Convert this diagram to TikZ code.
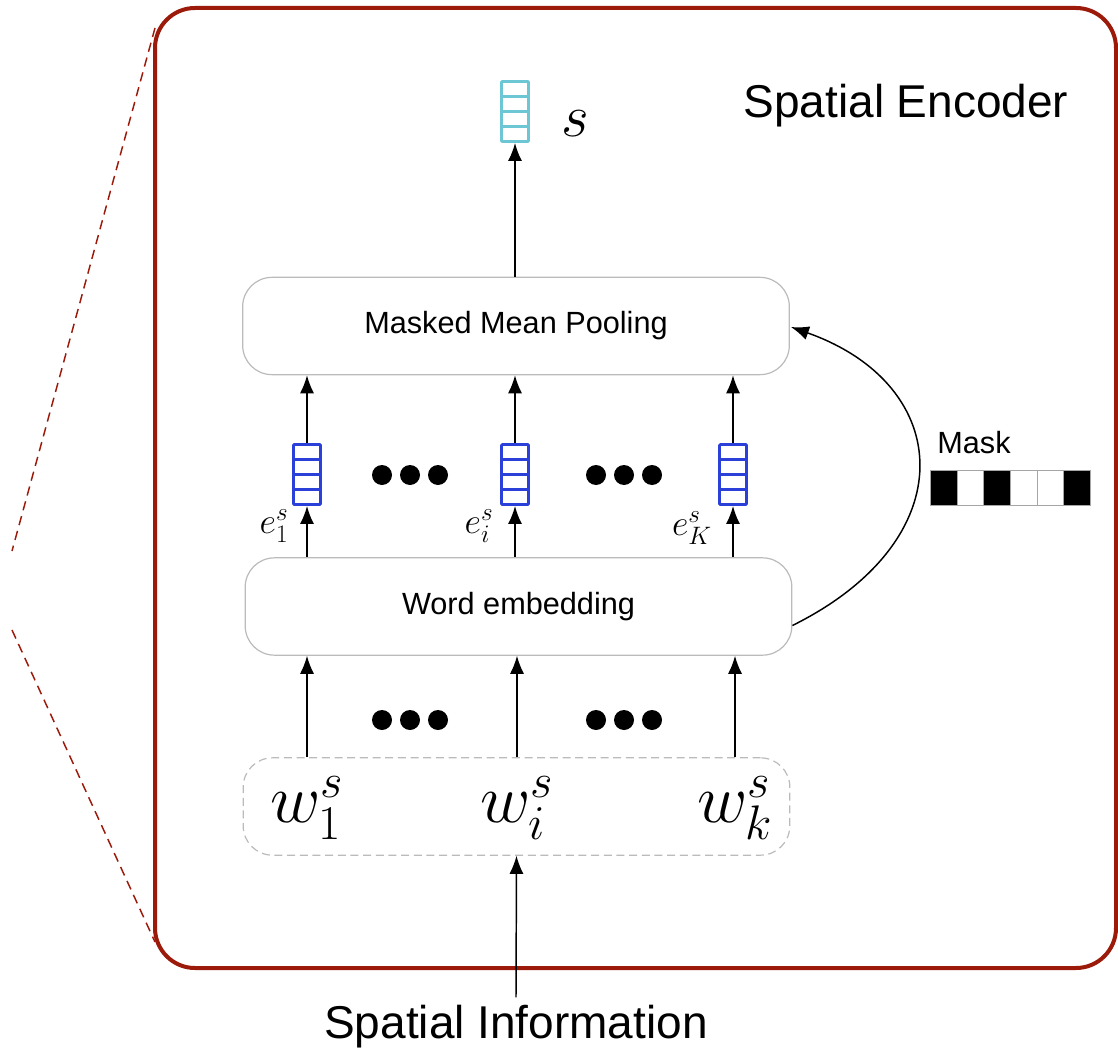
\documentclass[tikz,border=0pt]{standalone}
\usepackage{fix-cm}
\usepackage{fontspec}
\setmainfont{Liberation Sans}
\usetikzlibrary{arrows.meta,calc}
\definecolor{framered}{HTML}{9B1A0A}
\definecolor{cyanv}{HTML}{6CC6D4}
\definecolor{bluev}{HTML}{2B3FD9}
\definecolor{boxgray}{HTML}{BBBBBB}
\begin{document}
\begin{tikzpicture}[x=0.75pt,y=-0.75pt,
  arr/.style={-{Latex[length=13.5pt,width=10.5pt]}, line width=1.1pt},
  block/.style={draw=boxgray, line width=0.9pt, rounded corners=22pt,
    minimum width=410pt, minimum height=73pt, inner sep=0pt,
    font=\fontsize{23}{28}\selectfont},
  vec/.style={draw=#1, line width=2.2pt, rounded corners=0.8pt,
    minimum width=20.25pt, minimum height=45pt, inner sep=0pt,
    path picture={\foreach \f in {0.25,0.5,0.75}{
      \draw[#1, line width=2.2pt]
        ($(path picture bounding box.south west)!\f!(path picture bounding box.north west)$) --
        ($(path picture bounding box.south east)!\f!(path picture bounding box.north east)$);}}},
  wlabel/.style={font=\fontsize{52}{56}\selectfont, inner sep=0pt},
  elabel/.style={font=\fontsize{27}{30}\selectfont, inner sep=0pt},
  bigtext/.style={font=\fontsize{34.5}{40}\selectfont, inner sep=0pt},
  dot/.style={circle, fill=black, minimum size=15pt, inner sep=0pt},
]
\useasboundingbox (0,0) rectangle (1118,1056);

% encoder frame and zoom lines
\draw[framered, line width=3pt, rounded corners=30pt] (155,8) rectangle (1116,968);
\coordinate (zt) at (155,28);
\coordinate (zb) at (155,942);
\draw[framered, line width=1.1pt, dash pattern=on 7pt off 4.5pt] (zt) -- (12,551);
\draw[framered, line width=1.1pt, dash pattern=on 7pt off 4.5pt] (12,630) -- (zb);

\node[bigtext] (title) at (906,106) {Spatial Encoder};

% output vector
\node[vec=cyanv] (out) at (515,111.5) {};
\node[font=\fontsize{45}{50}\selectfont, inner sep=0pt] (slab) at (575,124) {$s$};

% blocks
\node[block] (mmp) at (516,326) {Masked Mean Pooling};
\node[block] (we) at (518.5,606.5) {Word embedding};
\node[block, draw=boxgray, dashed, dash pattern=on 6pt off 3.5pt] (inp) at (516.5,806.5) {};

% embedding vectors
\node[vec=bluev] (v1) at (307,474.5) {};
\node[vec=bluev] (vi) at (515,474.5) {};
\node[vec=bluev] (vk) at (733,474.5) {};
\node[elabel] (e1) at (274,526) {$e_1^s$};
\node[elabel] (ei) at (479,526) {$e_i^s$};
\node[elabel] (ek) at (692,528) {$e_K^s$};

% ellipsis dots
\foreach \x in {382,410,438,596,624,652}{
  \node[dot] at (\x,475) {};
  \node[dot] at (\x,720) {};
}

% input words
\node[wlabel] (w1) at (307,808) {$w_1^s$};
\node[wlabel] (wi) at (517,808) {$w_i^s$};
\node[wlabel] (wk) at (735,808) {$w_k^s$};

\node[bigtext] (info) at (516,1027) {Spatial Information};

% mask
\node[font=\fontsize{23}{28}\selectfont, inner sep=0pt] (masklab) at (974,443) {Mask};
\foreach \i/\c in {0/black,1/white,2/black,3/white,4/white,5/black}{
  \node[draw=gray!70, fill=\c, line width=0.6pt, minimum width=20pt, minimum height=26pt,
        inner sep=0pt, anchor=north west] (m\i) at (930+26.67*\i,470) {};
}

% connectors
\draw[arr] (mmp.north -| out) -- (out.south);
\foreach \v in {v1,vi,vk}{
  \draw[arr] (\v.north) -- (mmp.south -| \v);
  \draw[arr] (we.north -| \v) -- (\v.south);
}
\draw[arr] (inp.north -| w1) -- (we.south -| w1);
\draw[arr] (inp.north -| wi) -- (we.south -| wi);
\draw[arr] (inp.north -| wk) -- (we.south -| wk);
\draw[arr] (info.north) ++(0,-8) coordinate (infotop) -- (inp.south);
\draw[arr] ($(we.east)+(0,19)$) .. controls (965,540) and (955,385) .. ($(mmp.east)+(1,1)$);
\end{tikzpicture}
\end{document}
